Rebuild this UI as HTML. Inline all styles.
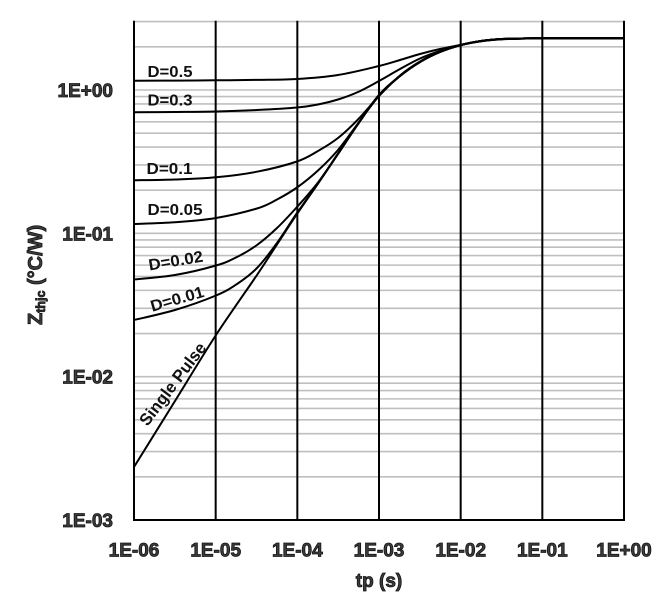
<!DOCTYPE html>
<html>
<head>
<meta charset="utf-8">
<style>
  html, body { margin: 0; padding: 0; background: #ffffff; }
  svg { display: block; }
  .tick { font-family: "Liberation Sans", Arial, sans-serif; font-weight: bold; font-size: 19px; fill: #3c3c3c; stroke: #111; stroke-width: 0.8px; }
  .lbl { font-family: "Liberation Sans", Arial, sans-serif; font-weight: bold; font-size: 16px; fill: #111; }
  .grid line { stroke: #bfbfbf; stroke-width: 1.6; }
  .major line { stroke: #000; stroke-width: 2; }
  .curve { fill: none; stroke: #000; stroke-width: 2; stroke-linejoin: round; stroke-linecap: round; }
</style>
</head>
<body>
<svg id="chart" width="669" height="614" viewBox="0 0 669 614" xmlns="http://www.w3.org/2000/svg">
  <rect x="0" y="0" width="669" height="614" fill="#fff"/>
  <g class="grid">
    <line x1="134" x2="624" y1="476.85" y2="476.85"/>
    <line x1="134" x2="624" y1="451.61" y2="451.61"/>
    <line x1="134" x2="624" y1="433.70" y2="433.70"/>
    <line x1="134" x2="624" y1="419.81" y2="419.81"/>
    <line x1="134" x2="624" y1="408.46" y2="408.46"/>
    <line x1="134" x2="624" y1="398.87" y2="398.87"/>
    <line x1="134" x2="624" y1="390.56" y2="390.56"/>
    <line x1="134" x2="624" y1="383.23" y2="383.23"/>
    <line x1="134" x2="624" y1="376.67" y2="376.67"/>
    <line x1="134" x2="624" y1="333.52" y2="333.52"/>
    <line x1="134" x2="624" y1="308.28" y2="308.28"/>
    <line x1="134" x2="624" y1="290.37" y2="290.37"/>
    <line x1="134" x2="624" y1="276.48" y2="276.48"/>
    <line x1="134" x2="624" y1="265.13" y2="265.13"/>
    <line x1="134" x2="624" y1="255.54" y2="255.54"/>
    <line x1="134" x2="624" y1="247.23" y2="247.23"/>
    <line x1="134" x2="624" y1="239.90" y2="239.90"/>
    <line x1="134" x2="624" y1="233.33" y2="233.33"/>
    <line x1="134" x2="624" y1="190.18" y2="190.18"/>
    <line x1="134" x2="624" y1="164.94" y2="164.94"/>
    <line x1="134" x2="624" y1="147.03" y2="147.03"/>
    <line x1="134" x2="624" y1="133.14" y2="133.14"/>
    <line x1="134" x2="624" y1="121.79" y2="121.79"/>
    <line x1="134" x2="624" y1="112.20" y2="112.20"/>
    <line x1="134" x2="624" y1="103.89" y2="103.89"/>
    <line x1="134" x2="624" y1="96.56" y2="96.56"/>
    <line x1="134" x2="624" y1="90" y2="90"/>
    <line x1="134" x2="624" y1="46.85" y2="46.85"/>
    <line x1="134" x2="624" y1="21.61" y2="21.61"/>
  </g>
  <g class="major">
    <line x1="134" x2="134" y1="20.8" y2="521"/>
    <line x1="215.67" x2="215.67" y1="20.8" y2="521"/>
    <line x1="297.33" x2="297.33" y1="20.8" y2="521"/>
    <line x1="379" x2="379" y1="20.8" y2="521"/>
    <line x1="460.67" x2="460.67" y1="20.8" y2="521"/>
    <line x1="542.33" x2="542.33" y1="20.8" y2="521"/>
    <line x1="624" x2="624" y1="20.8" y2="521"/>
    <line x1="133" x2="625" y1="520" y2="520"/>
  </g>

  <g id="curves">
    <polyline class="curve" points="134,467 175,401 216,335 257,275 277,244.5 297,214 318,183.5 338,154 358,124 379,95 400,76 420,62 440,52 461,45 481,41 502,39 522,38.5 542,38.3 624,38.3"/>
    <polyline class="curve" points="134,80.7 175,80.6 216,80.3 257,79.9 297,79 338,75 379,66 400,60 420,54 440,49 461,44.8 481,41.3 502,39.3 522,38.6 542,38.3 624,38.3"/>
    <polyline class="curve" points="134,112.3 175,112 216,111.5 257,110 297,107.5 318,104.5 338,99.5 358,92 379,81 400,69 420,58.5 440,51 461,45 481,41.2 502,39.2 522,38.6 542,38.3 624,38.3"/>
    <polyline class="curve" points="134,180.3 175,179.5 216,177.3 257,171.7 297,161.5 318,151 338,138 358,119.5 379,96 400,75.5 420,61.5 440,51.8 461,44.9 481,41 502,39 522,38.5 542,38.3 624,38.3"/>
    <polyline class="curve" points="134,224 175,222.3 216,218 257,208.5 277,199.5 297,187.5 318,170.5 338,150 358,123.5 379,96 400,76 420,62 440,52 461,45 481,41 502,39 522,38.5 542,38.3 624,38.3"/>
    <polyline class="curve" points="134,279.5 175,275 216,265.5 237,257 257,245 277,228 297,207 318,182.5 338,153.5 358,124 379,95 400,76 420,62 440,52 461,45 481,41 502,39 522,38.5 542,38.3 624,38.3"/>
    <polyline class="curve" points="134,320 175,310 216,295.5 237,284 257,268 277,243 297,213 318,183.5 338,154 358,124 379,95 400,76 420,62 440,52 461,45 481,41 502,39 522,38.5 542,38.3 624,38.3"/>
  </g>

  <text class="lbl" x="147.5" y="77" textLength="45" lengthAdjust="spacingAndGlyphs">D=0.5</text>
  <text class="lbl" x="147.5" y="105.5" textLength="45" lengthAdjust="spacingAndGlyphs">D=0.3</text>
  <text class="lbl" x="146.5" y="174" textLength="46" lengthAdjust="spacingAndGlyphs">D=0.1</text>
  <text class="lbl" x="147.5" y="215" textLength="55" lengthAdjust="spacingAndGlyphs">D=0.05</text>
  <text class="lbl" transform="translate(149.5,270.5) rotate(-9.4)" x="0" y="0" textLength="55" lengthAdjust="spacingAndGlyphs">D=0.02</text>
  <text class="lbl" transform="translate(152.2,311.7) rotate(-16)" x="0" y="0" textLength="55" lengthAdjust="spacingAndGlyphs">D=0.01</text>
  <text class="lbl" style="font-size:17px" transform="translate(147.5,427) rotate(-53)" x="0" y="0" textLength="99" lengthAdjust="spacingAndGlyphs">Single Pulse</text>

  <text class="tick" x="113" y="97" text-anchor="end">1E+00</text>
  <text class="tick" x="113" y="240.3" text-anchor="end">1E-01</text>
  <text class="tick" x="113" y="383.7" text-anchor="end">1E-02</text>
  <text class="tick" x="113" y="527" text-anchor="end">1E-03</text>

  <text class="tick" x="134" y="556.5" text-anchor="middle">1E-06</text>
  <text class="tick" x="215.67" y="556.5" text-anchor="middle">1E-05</text>
  <text class="tick" x="297.33" y="556.5" text-anchor="middle">1E-04</text>
  <text class="tick" x="379" y="556.5" text-anchor="middle">1E-03</text>
  <text class="tick" x="460.67" y="556.5" text-anchor="middle">1E-02</text>
  <text class="tick" x="542.33" y="556.5" text-anchor="middle">1E-01</text>
  <text class="tick" x="624" y="556.5" text-anchor="middle">1E+00</text>

  <text class="tick" x="379" y="587" text-anchor="middle">tp (s)</text>
  <text class="tick" style="font-size:20px" transform="translate(42,325) rotate(-90)" x="0" y="0">Z<tspan style="font-size:12.5px" dy="3">thjc</tspan><tspan dy="-3"> (°C/W)</tspan></text>
</svg>
<script>
(function(){
  var ns = "http://www.w3.org/2000/svg";
  var g = document.getElementById("curves");
  var pls = Array.prototype.slice.call(g.querySelectorAll("polyline"));
  pls.forEach(function(pl){
    var raw = pl.getAttribute("points").trim().split(/\s+/).map(function(s){
      var a = s.split(","); return [parseFloat(a[0]), parseFloat(a[1])];
    });
    var d = "M" + raw[0][0] + "," + raw[0][1];
    for (var i = 0; i < raw.length - 1; i++) {
      var p0 = raw[i-1] || raw[i], p1 = raw[i], p2 = raw[i+1], p3 = raw[i+2] || raw[i+1];
      var c1x = p1[0] + (p2[0]-p0[0])/6, c1y = p1[1] + (p2[1]-p0[1])/6;
      var c2x = p2[0] - (p3[0]-p1[0])/6, c2y = p2[1] - (p3[1]-p1[1])/6;
      d += " C" + c1x.toFixed(2) + "," + c1y.toFixed(2) + " " + c2x.toFixed(2) + "," + c2y.toFixed(2) + " " + p2[0] + "," + p2[1];
    }
    var path = document.createElementNS(ns, "path");
    path.setAttribute("d", d);
    path.setAttribute("class", "curve");
    g.replaceChild(path, pl);
  });
})();
</script>
</body>
</html>
